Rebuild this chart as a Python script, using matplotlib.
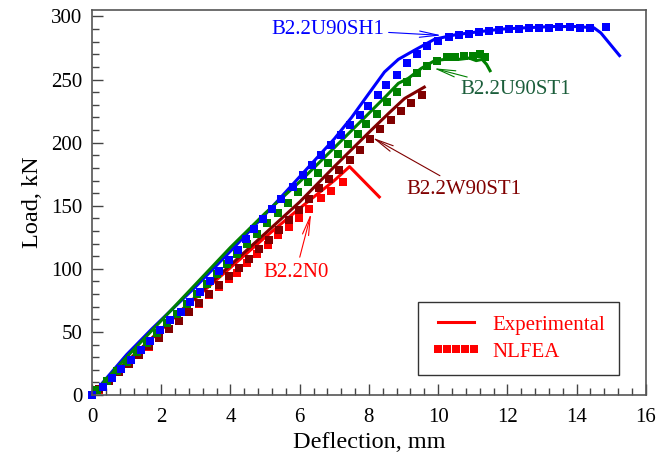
import matplotlib
matplotlib.use('Agg')
import matplotlib.pyplot as plt
from matplotlib.ticker import MultipleLocator

plt.rcParams['font.family'] = ['Liberation Serif', 'DejaVu Serif']

# B2.2U90SH1 (blue)
sh1_exp_x = [0, 0.5, 1, 1.75, 3, 4, 5, 6, 7, 7.5, 8, 8.45, 8.85, 9.3, 9.9, 10.5, 11.2,
             11.85, 12.5, 13.3, 14, 14.5, 14.7, 15.24]
sh1_exp_y = [0, 16, 32, 53, 86, 114, 143, 173, 203, 220, 239, 256, 266, 273, 282, 285.5, 288,
             290, 291, 292, 292, 291, 287, 269]
sh1_fea_x = [0, 0.32, 0.58, 0.85, 1.14, 1.42, 1.69, 1.96, 2.25, 2.56, 2.83, 3.12, 3.41, 3.68,
             3.96, 4.21, 4.44, 4.68, 4.93, 5.19, 5.46, 5.8, 6.09, 6.36, 6.62, 6.91, 7.2, 7.44,
             7.73, 7.98, 8.26, 8.5, 8.8, 9.09, 9.38, 9.67, 10.0, 10.3, 10.59, 10.88, 11.17,
             11.46, 11.75, 12.04, 12.33, 12.62, 12.9, 13.2, 13.5, 13.8, 14.1, 14.4, 14.84]
sh1_fea_y = [0, 6.3, 13.7, 21, 27.7, 35.9, 43, 51.5, 59.4, 66, 73.9, 81.8, 90.3, 98.4,
             107, 115, 123.5, 131.4, 139.9, 147.5, 155.7, 165, 174, 182, 190, 198, 206, 214,
             222, 229, 238, 246, 254, 263, 270.5, 276.5, 280.5, 283.7, 285, 286.3, 287.6,
             288.4, 289, 289.7, 290.2, 290.6, 291, 291.2, 291.3, 291.3, 291, 291, 292]

# B2.2U90ST1 (green)
st1_exp_x = [0, 1, 2, 3, 4, 5, 6, 7, 7.88, 8.5, 8.85, 9.14, 9.52, 9.9, 10.2, 10.4, 10.6,
             10.9, 11.1, 11.27, 11.4, 11.5]
st1_exp_y = [0, 30, 59, 88, 117, 144, 169, 196, 220, 237, 247, 251, 259, 265, 266, 268, 266,
             267, 265, 266, 262, 257]
st1_fea_x = [0, 0.15, 0.43, 0.72, 1.01, 1.3, 1.59, 1.88, 2.17, 2.46, 2.75, 3.04, 3.33, 3.62,
             3.91, 4.2, 4.49, 4.78, 5.07, 5.36, 5.65, 5.94, 6.23, 6.52, 6.81, 7.1, 7.39, 7.68,
             7.93, 8.22, 8.51, 8.8, 9.09, 9.38, 9.67, 9.96, 10.25, 10.5, 10.75, 11.0, 11.2, 11.35]
st1_fea_y = [0, 4, 11, 19, 26, 34, 41, 49, 57, 64, 72, 80, 88, 96,
             104, 112, 120, 128, 136, 144, 152, 161, 169, 176, 184, 191, 199, 207,
             215, 223, 232, 240, 248, 255, 261, 265, 268, 268, 269, 269, 270, 268]

# B2.2W90ST1 (dark red)
w90_exp_x = [0, 1, 2, 3, 4, 5, 6, 7, 8.07, 8.6, 9.03, 9.6]
w90_exp_y = [0, 26, 52, 78, 103, 128, 153, 181, 210, 224, 235, 244]
w90_fea_x = [0, 0.19, 0.48, 0.77, 1.06, 1.35, 1.64, 1.93, 2.22, 2.51, 2.8, 3.09, 3.38, 3.67,
             3.96, 4.25, 4.54, 4.83, 5.12, 5.41, 5.7, 5.99, 6.28, 6.57, 6.86, 7.15, 7.44, 7.73,
             8.02, 8.33, 8.63, 8.92, 9.23, 9.52]
w90_fea_y = [0, 4.5, 11, 18, 25, 32, 38.5, 45.5, 52, 59, 66, 73, 80, 87,
             94, 101, 108, 115.5, 123, 130.5, 138.5, 146.5, 155, 164, 171.5, 178.6, 186, 194,
             203, 210.6, 217.7, 224.8, 231.5, 237.5]

# B2.2N0 (red)
n0_exp_x = [0, 1, 2, 3, 4, 5, 6, 7, 7.44, 8.3]
n0_exp_y = [0, 26, 52, 77, 101, 125, 148, 170, 181, 157]
n0_fea_x = [0, 0.2, 0.49, 0.78, 1.07, 1.36, 1.65, 1.94, 2.23, 2.52, 2.81, 3.1, 3.39, 3.68,
            3.96, 4.2, 4.49, 4.78, 5.08, 5.38, 5.7, 5.99, 6.28, 6.62, 6.91, 7.25]
n0_fea_y = [0, 4, 11, 18, 25, 31.5, 38, 45, 52, 58.5, 65.5, 72.5, 79.5, 86,
            92, 97, 105, 111.6, 119, 126.7, 133.2, 140.6, 147.8, 156.5, 162, 169]

fig = plt.figure(figsize=(6.57, 4.61), dpi=100)
ax = fig.add_axes([0.140, 0.143, 0.843, 0.835])

lw = 2.2
ms = 6
ax.plot(n0_exp_x, n0_exp_y, color='#ff0000', lw=lw)
ax.plot(sh1_exp_x, sh1_exp_y, color='#0000ff', lw=lw)
ax.plot(w90_exp_x, w90_exp_y, color='#800000', lw=lw)
ax.plot(st1_exp_x, st1_exp_y, color='#008000', lw=lw)

ax.plot(n0_fea_x, n0_fea_y, 's', color='#ff0000', ms=ms, mew=0, clip_on=False)
ax.plot(w90_fea_x, w90_fea_y, 's', color='#800000', ms=ms, mew=0, clip_on=False)
ax.plot(st1_fea_x, st1_fea_y, 's', color='#008000', ms=ms, mew=0, clip_on=False)
ax.plot(sh1_fea_x, sh1_fea_y, 's', color='#0000ff', ms=ms, mew=0, clip_on=False)

arrow = '->,head_length=0.9,head_width=0.15'
ax.annotate('B2.2U90SH1', xy=(10.1, 285), xytext=(8.45, 290), color='#0000ff',
            fontsize=15, ha='right', va='center',
            arrowprops=dict(arrowstyle=arrow, color='#0000ff', lw=0.8, shrinkA=1, shrinkB=0))
ax.annotate('B2.2U90ST1', xy=(9.87, 259), xytext=(10.63, 242), color='#1b5e3b',
            fontsize=15, ha='left', va='center',
            arrowprops=dict(arrowstyle=arrow, color='#008000', lw=0.8, shrinkA=1, shrinkB=0))
ax.annotate('B2.2W90ST1', xy=(8.1, 204), xytext=(9.09, 163), color='#800000',
            fontsize=15, ha='left', va='center',
            arrowprops=dict(arrowstyle=arrow, color='#800000', lw=0.8, shrinkA=2, shrinkB=0))
ax.annotate('B2.2N0', xy=(6.33, 144), xytext=(5.89, 97.4), color='#ff0000',
            fontsize=15, ha='center', va='center',
            arrowprops=dict(arrowstyle=arrow, color='#ff0000', lw=0.8, shrinkA=2, shrinkB=0))

# legend
h_exp, = ax.plot([], [], color='#ff0000', lw=lw, label='Experimental')
h_fea, = ax.plot([], [], 's', color='#ff0000', ms=ms, mew=0, label='NLFEA')
leg = ax.legend(handles=[h_exp, h_fea], loc='lower right', bbox_to_anchor=(0.951, 0.052),
                borderaxespad=0, fontsize=15, numpoints=5, frameon=True, fancybox=False,
                edgecolor='black', handlelength=2.3, borderpad=0.65, labelspacing=0.35,
                handletextpad=0.6)
leg.get_frame().set_linewidth(1.0)
for t in leg.get_texts():
    t.set_color('#ff0000')

ax.set_xlim(0, 16)
ax.set_ylim(0, 305)
ax.xaxis.set_major_locator(MultipleLocator(2))
ax.xaxis.set_minor_locator(MultipleLocator(0.4))
ax.yaxis.set_major_locator(MultipleLocator(50))
ax.yaxis.set_minor_locator(MultipleLocator(10))
ax.tick_params(which='both', direction='in', top=False, right=False, labelsize=15, width=1, color='#444444')
ax.tick_params(which='major', length=8)
ax.tick_params(which='minor', length=5)
ax.tick_params(axis='x', pad=9)
ax.tick_params(axis='y', pad=7)
for s in ax.spines.values():
    s.set_color('#555555')
    s.set_linewidth(1.2)

ax.set_xlabel('Deflection, mm', fontsize=17.5, labelpad=4)
ax.set_ylabel('Load, kN', fontsize=17.5, labelpad=6)

fig.savefig('out.png', dpi=100)
